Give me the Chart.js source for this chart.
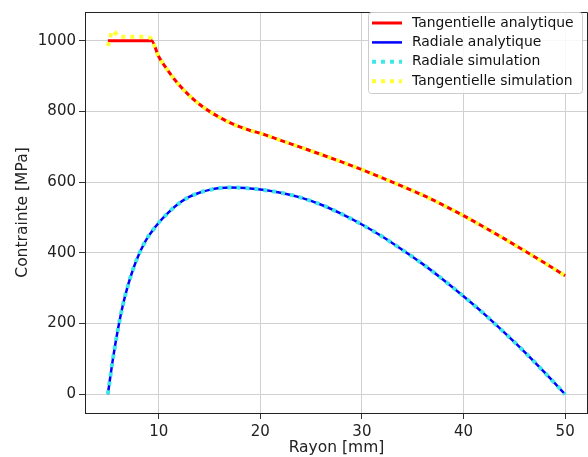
<!DOCTYPE html>
<html>
<head>
<meta charset="utf-8">
<script src="https://cdn.jsdelivr.net/npm/chart.js@4/dist/chart.umd.min.js"></script>
<style>
  html, body { margin: 0; padding: 0; background: #fff; }
</style>
</head>
<body>
<canvas id="myChart" width="588" height="457"></canvas>
<script>
// rayon en mm
const rayon = [5, 5.5, 6, 6.5, 7, 7.5, 8, 8.5, 9, 9.3, 10, 11, 12, 13, 14, 15, 16, 17, 18, 19, 20,
  22, 24, 26, 28, 30, 32, 34, 36, 38, 40, 42, 44, 46, 48, 50]

// contraintes en MPa
const tangAnalytique = [1000, 1000, 1000, 1000, 1000, 1000, 1000, 1000, 1000, 1000, 955, 912, 875, 845, 820, 800, 783, 768, 756, 746, 738,
  718, 698, 678, 657, 635, 612, 588, 563, 535, 505, 473, 440, 406, 371, 335]
const radAnalytique = [0, 100, 185, 255, 310, 355, 392, 422, 447, 459, 485, 515, 540, 558, 570, 578, 583, 585, 584, 582, 579,
  570, 556, 536, 510, 480, 446, 408, 368, 324, 277, 228, 175, 120, 61, 0]
const radSimulation = [0, 100, 185, 255, 310, 355, 392, 422, 447, 459, 485, 515, 540, 558, 570, 578, 583, 585, 584, 582, 579,
  570, 556, 536, 510, 480, 446, 408, 368, 324, 277, 228, 175, 120, 61, 0]
const tangSimulation = [985, 1028, 1013, 1011, 1011, 1011, 1011, 1011, 1010, 1004, 955, 912, 875, 845, 820, 800, 783, 768, 756, 746, 738,
  718, 698, 678, 657, 635, 612, 588, 563, 535, 505, 473, 440, 406, 371, 335]

const xTicks = [10, 20, 30, 40, 50]
const yTicks = [0, 200, 400, 600, 800, 1000]

function points(values) {
  let pts = []
  for (let i = 0; i < rayon.length; i++) {
    pts.push({x: rayon[i], y: values[i]})
  }
  return pts
}

const FONT = 'DejaVu Sans'

// legende dans le coin, façon matplotlib
const legendBox = {
  id: 'legendBox',
  afterDraw(chart) {
    const ctx = chart.ctx
    const area = chart.chartArea
    ctx.save()
    // cadre complet
    ctx.strokeStyle = '#222'
    ctx.lineWidth = 1
    ctx.beginPath()
    ctx.moveTo(area.left, area.top + 0.5)
    ctx.lineTo(area.right - 0.5, area.top + 0.5)
    ctx.lineTo(area.right - 0.5, area.bottom)
    ctx.stroke()

    const x0 = 368.5, y0 = 12.5, w = 214, h = 81
    ctx.fillStyle = 'rgba(255,255,255,0.85)'
    ctx.strokeStyle = '#cccccc'
    ctx.beginPath()
    ctx.roundRect(x0, y0, w, h, 3)
    ctx.fill()
    ctx.stroke()

    ctx.font = '13.9px "' + FONT + '"'
    ctx.textBaseline = 'middle'
    ctx.textAlign = 'left'
    chart.data.datasets.forEach((ds, i) => {
      const y = 23 + i * 19.4
      ctx.strokeStyle = ds.borderColor
      ctx.lineWidth = ds.borderWidth
      ctx.setLineDash(ds.borderDash || [])
      ctx.beginPath()
      ctx.moveTo(372, y)
      ctx.lineTo(402, y)
      ctx.stroke()
      ctx.setLineDash([])
      ctx.fillStyle = '#111'
      ctx.fillText(ds.label, 412, y)
    })
    ctx.restore()
  }
}

var ctx = document.getElementById('myChart').getContext('2d')
var chart = new Chart(ctx, {
  type: 'line',
  data: {
    datasets: [{
      label: 'Tangentielle analytique',
      data: points(tangAnalytique),
      borderColor: '#ff0000',
      borderWidth: 3,
      order: 1
    }, {
      label: 'Radiale analytique',
      data: points(radAnalytique),
      borderColor: '#0000ff',
      borderWidth: 2.5,
      order: 1
    }, {
      label: 'Radiale simulation',
      data: points(radSimulation),
      borderColor: '#3fe8e8',
      borderWidth: 4,
      borderDash: [4, 5],
      order: 0
    }, {
      label: 'Tangentielle simulation',
      data: points(tangSimulation),
      borderColor: '#ffff33',
      borderWidth: 4,
      borderDash: [4, 5],
      order: 0
    }]
  },
  options: {
    responsive: false,
    animation: false,
    devicePixelRatio: 1,
    layout: { padding: { top: 6, right: 0, left: 0, bottom: 0 } },
    elements: {
      point: { radius: 0 },
      line: { cubicInterpolationMode: 'monotone', fill: false }
    },
    plugins: {
      legend: { display: false },
      tooltip: { enabled: false }
    },
    scales: {
      x: {
        type: 'linear',
        min: 2.75,
        max: 52.25,
        afterBuildTicks: axis => { axis.ticks = xTicks.map(v => ({value: v})) },
        afterFit: axis => { axis.height = 44 },
        grid: { color: '#d0d0d0', lineWidth: 1, tickLength: 6, tickColor: '#333' },
        border: { color: '#222', width: 1 },
        ticks: { font: { family: FONT, size: 15 }, color: '#222', padding: 4, maxRotation: 0, callback: v => String(v) },
        title: { display: true, text: 'Rayon [mm]', font: { family: FONT, size: 15.5 }, color: '#222', padding: { top: 0, bottom: 0 } }
      },
      y: {
        type: 'linear',
        min: -53,
        max: 1081,
        afterBuildTicks: axis => { axis.ticks = yTicks.map(v => ({value: v})) },
        afterFit: axis => { axis.width = 85 },
        grid: { color: '#d0d0d0', lineWidth: 1, tickLength: 6, tickColor: '#333' },
        border: { color: '#222', width: 1 },
        ticks: { font: { family: FONT, size: 15 }, color: '#222', padding: 3, callback: v => String(v) },
        title: { display: true, text: 'Contrainte [MPa]', font: { family: FONT, size: 15.5 }, color: '#222', padding: { top: 14, bottom: 0 } }
      }
    }
  },
  plugins: [legendBox]
})
</script>
</body>
</html>
